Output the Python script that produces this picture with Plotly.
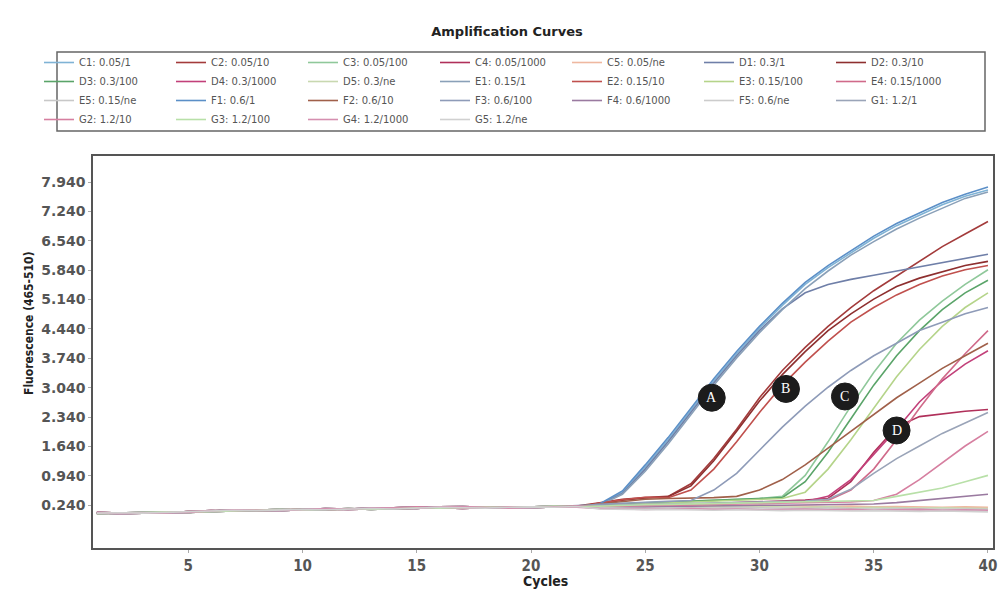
import plotly.graph_objects as go

cycles = list(range(1, 41))

base1 = [0.05, 0.06, 0.05, 0.07, 0.08, 0.10, 0.12, 0.11, 0.13, 0.14, 0.13, 0.15, 0.16, 0.15, 0.17, 0.19, 0.18, 0.17, 0.19, 0.20, 0.19, 0.21]
base2 = [0.07, 0.05, 0.06, 0.06, 0.09, 0.11, 0.10, 0.13, 0.12, 0.13, 0.15, 0.14, 0.15, 0.18, 0.20, 0.18, 0.16, 0.18, 0.20, 0.19, 0.21, 0.22]
base3 = [0.04, 0.05, 0.07, 0.08, 0.07, 0.09, 0.11, 0.12, 0.14, 0.12, 0.14, 0.16, 0.14, 0.16, 0.18, 0.17, 0.19, 0.20, 0.18, 0.20, 0.22, 0.20]
base4 = [0.06, 0.04, 0.05, 0.06, 0.07, 0.10, 0.13, 0.12, 0.11, 0.13, 0.16, 0.15, 0.17, 0.17, 0.16, 0.20, 0.21, 0.19, 0.17, 0.18, 0.20, 0.19]

# cycles 23-40 for every sample
C1_t = [0.26, 0.55, 1.15, 1.80, 2.50, 3.20, 3.85, 4.45, 5.00, 5.50, 5.90, 6.25, 6.60, 6.90, 7.15, 7.40, 7.60, 7.75]
C2_t = [0.30, 0.38, 0.42, 0.45, 0.75, 1.35, 2.05, 2.80, 3.45, 4.00, 4.50, 4.95, 5.35, 5.70, 6.05, 6.40, 6.70, 7.00]
C3_t = [0.25, 0.28, 0.30, 0.32, 0.34, 0.36, 0.38, 0.40, 0.45, 0.95, 1.75, 2.60, 3.40, 4.10, 4.65, 5.10, 5.50, 5.85]
C4_t = [0.20, 0.22, 0.24, 0.25, 0.27, 0.28, 0.30, 0.32, 0.34, 0.36, 0.40, 0.80, 1.50, 2.10, 2.35, 2.42, 2.48, 2.52]
C5_t = [0.22, 0.21, 0.23, 0.22, 0.24, 0.23, 0.22, 0.24, 0.23, 0.22, 0.21, 0.22, 0.20, 0.21, 0.20, 0.19, 0.20, 0.19]
D1_t = [0.25, 0.52, 1.10, 1.75, 2.45, 3.15, 3.80, 4.40, 4.92, 5.30, 5.50, 5.62, 5.72, 5.82, 5.92, 6.02, 6.12, 6.22]
D2_t = [0.28, 0.36, 0.41, 0.44, 0.70, 1.30, 2.00, 2.72, 3.35, 3.90, 4.40, 4.80, 5.15, 5.45, 5.65, 5.80, 5.95, 6.05]
D3_t = [0.24, 0.27, 0.29, 0.31, 0.33, 0.35, 0.37, 0.39, 0.42, 0.80, 1.50, 2.30, 3.10, 3.80, 4.40, 4.90, 5.30, 5.60]
D4_t = [0.19, 0.21, 0.22, 0.24, 0.25, 0.27, 0.28, 0.29, 0.31, 0.33, 0.45, 0.85, 1.45, 2.05, 2.70, 3.20, 3.60, 3.92]
D5_t = [0.20, 0.21, 0.20, 0.19, 0.21, 0.20, 0.22, 0.21, 0.20, 0.19, 0.20, 0.18, 0.19, 0.18, 0.17, 0.18, 0.17, 0.16]
E1_t = [0.24, 0.50, 1.05, 1.70, 2.40, 3.10, 3.75, 4.35, 4.90, 5.40, 5.82, 6.20, 6.52, 6.82, 7.08, 7.32, 7.55, 7.70]
E2_t = [0.29, 0.37, 0.43, 0.42, 0.60, 1.10, 1.75, 2.45, 3.10, 3.65, 4.15, 4.60, 4.95, 5.25, 5.50, 5.70, 5.85, 5.95]
E3_t = [0.23, 0.26, 0.28, 0.30, 0.32, 0.34, 0.36, 0.38, 0.40, 0.55, 1.10, 1.80, 2.55, 3.30, 3.95, 4.50, 4.95, 5.30]
E4_t = [0.20, 0.21, 0.23, 0.24, 0.26, 0.27, 0.29, 0.30, 0.31, 0.32, 0.35, 0.60, 1.10, 1.80, 2.55, 3.25, 3.85, 4.40]
E5_t = [0.19, 0.18, 0.20, 0.19, 0.18, 0.17, 0.19, 0.18, 0.17, 0.16, 0.17, 0.16, 0.15, 0.16, 0.15, 0.14, 0.15, 0.14]
F1_t = [0.27, 0.58, 1.20, 1.85, 2.55, 3.25, 3.90, 4.50, 5.05, 5.55, 5.95, 6.30, 6.65, 6.95, 7.20, 7.45, 7.65, 7.82]
F2_t = [0.27, 0.33, 0.38, 0.40, 0.41, 0.42, 0.45, 0.60, 0.85, 1.20, 1.60, 2.00, 2.40, 2.80, 3.15, 3.50, 3.80, 4.10]
F3_t = [0.26, 0.29, 0.31, 0.33, 0.35, 0.60, 1.00, 1.55, 2.10, 2.60, 3.05, 3.45, 3.80, 4.10, 4.40, 4.60, 4.80, 4.95]
F4_t = [0.18, 0.19, 0.20, 0.21, 0.22, 0.22, 0.23, 0.24, 0.24, 0.25, 0.25, 0.26, 0.27, 0.30, 0.35, 0.40, 0.45, 0.50]
F5_t = [0.18, 0.17, 0.16, 0.17, 0.16, 0.15, 0.16, 0.15, 0.14, 0.15, 0.14, 0.13, 0.14, 0.13, 0.12, 0.13, 0.12, 0.11]
G1_t = [0.22, 0.24, 0.26, 0.27, 0.28, 0.30, 0.31, 0.32, 0.33, 0.34, 0.38, 0.62, 1.00, 1.35, 1.65, 1.95, 2.20, 2.45]
G2_t = [0.21, 0.22, 0.23, 0.24, 0.25, 0.26, 0.27, 0.28, 0.29, 0.30, 0.31, 0.32, 0.35, 0.50, 0.85, 1.25, 1.65, 2.00]
G3_t = [0.22, 0.23, 0.25, 0.26, 0.27, 0.28, 0.29, 0.30, 0.30, 0.31, 0.32, 0.33, 0.35, 0.45, 0.55, 0.65, 0.80, 0.95]
G4_t = [0.16, 0.15, 0.14, 0.15, 0.16, 0.14, 0.15, 0.13, 0.14, 0.15, 0.13, 0.14, 0.12, 0.13, 0.14, 0.12, 0.13, 0.12]
G5_t = [0.15, 0.14, 0.13, 0.14, 0.13, 0.12, 0.13, 0.12, 0.11, 0.12, 0.11, 0.10, 0.11, 0.10, 0.09, 0.10, 0.09, 0.08]

samples = [
    ("C1: 0.05/1", base1, C1_t, "#7fb3d5"),
    ("C2: 0.05/10", base2, C2_t, "#a33b3b"),
    ("C3: 0.05/100", base3, C3_t, "#8fc89a"),
    ("C4: 0.05/1000", base4, C4_t, "#b0305a"),
    ("C5: 0.05/ne", base1, C5_t, "#efb8a0"),
    ("D1: 0.3/1", base2, D1_t, "#6f7fa8"),
    ("D2: 0.3/10", base3, D2_t, "#8e2f2f"),
    ("D3: 0.3/100", base4, D3_t, "#5aa469"),
    ("D4: 0.3/1000", base1, D4_t, "#c2407a"),
    ("D5: 0.3/ne", base2, D5_t, "#c8d8b0"),
    ("E1: 0.15/1", base3, E1_t, "#8aa0b8"),
    ("E2: 0.15/10", base4, E2_t, "#c0504d"),
    ("E3: 0.15/100", base1, E3_t, "#b5d48a"),
    ("E4: 0.15/1000", base2, E4_t, "#d06a8a"),
    ("E5: 0.15/ne", base3, E5_t, "#c8c8c8"),
    ("F1: 0.6/1", base4, F1_t, "#5b8fc7"),
    ("F2: 0.6/10", base1, F2_t, "#a0604a"),
    ("F3: 0.6/100", base2, F3_t, "#8e9bb8"),
    ("F4: 0.6/1000", base3, F4_t, "#9a7aa0"),
    ("F5: 0.6/ne", base4, F5_t, "#cccccc"),
    ("G1: 1.2/1", base1, G1_t, "#9aa4b8"),
    ("G2: 1.2/10", base2, G2_t, "#d67fa0"),
    ("G3: 1.2/100", base3, G3_t, "#b8e0a8"),
    ("G4: 1.2/1000", base4, G4_t, "#d58fb0"),
    ("G5: 1.2/ne", base1, G5_t, "#d0d0d0"),
]

ytick_vals = [0.24, 0.94, 1.64, 2.34, 3.04, 3.74, 4.44, 5.14, 5.84, 6.54, 7.24, 7.94]
ytick_text = ["0.240", "0.940", "1.640", "2.340", "3.040", "3.740", "4.440", "5.140", "5.840", "6.540", "7.240", "7.940"]
xtick_vals = [5, 10, 15, 20, 25, 30, 35, 40]

labels = ["A", "B", "C", "D"]
label_x = [27.91, 31.16, 33.74, 36.0]
label_y = [2.80, 3.01, 2.83, 2.02]

fig = go.Figure()
for name, head, tail, color in samples:
    fig.add_trace(go.Scatter(x=cycles, y=head + tail, mode="lines", name=name,
                             line=dict(color=color, width=1.6)))

narrow = "DejaVu Sans Condensed, Liberation Sans Narrow, Liberation Sans, sans-serif"

# plot area in pixels: left 93, right 993, top 156, bottom 548
L, R, T, B = 93, 993, 156, 548
W, H = R - L, B - T


def px_x(p):
    return (p - L) / W


def px_y(p):
    return (B - p) / H


shapes = [dict(type="rect", xref="paper", yref="paper",
               x0=px_x(57), x1=px_x(985), y0=px_y(131), y1=px_y(52),
               line=dict(color="#666666", width=1.5), fillcolor="rgba(0,0,0,0)")]
annotations = []
for lab, lx, ly in zip(labels, label_x, label_y):
    shapes.append(dict(type="circle", xref="x", yref="y", xsizemode="pixel", ysizemode="pixel",
                       xanchor=lx, yanchor=ly, x0=-13.5, x1=13.5, y0=-13.5, y1=13.5,
                       fillcolor="#1c1c1c", line=dict(color="#1c1c1c", width=1), layer="above"))
    annotations.append(dict(x=lx, y=ly, xref="x", yref="y", text=lab, showarrow=False,
                            font=dict(family="Liberation Serif, DejaVu Serif, serif", size=14, color="white")))

annotations.append(dict(x=px_x(29), y=px_y(323), xref="paper", yref="paper", text="Fluorescence (465-510)",
                        showarrow=False, textangle=-90, xanchor="center", yanchor="middle",
                        font=dict(family=narrow, size=12, color="#222222", weight="bold")))
annotations.append(dict(x=px_x(545), y=px_y(581), xref="paper", yref="paper", text="Cycles",
                        showarrow=False, xanchor="center", yanchor="middle",
                        font=dict(family=narrow, size=14, color="#222222", weight="bold")))

fig.update_layout(
    width=1004, height=592,
    margin=dict(l=L, r=1004 - R, t=T, b=592 - B, autoexpand=False),
    paper_bgcolor="white", plot_bgcolor="white",
    title=dict(text="Amplification Curves", x=0.505, xref="container", y=1 - 31 / 592, yref="container",
               xanchor="center", yanchor="middle",
               font=dict(family="DejaVu Sans, sans-serif", size=13, color="#222222", weight="bold")),
    showlegend=True,
    legend=dict(orientation="h", x=px_x(39), xanchor="left", y=px_y(48), yanchor="top",
                entrywidth=87, entrywidthmode="pixels", bgcolor="rgba(0,0,0,0)", borderwidth=0,
                font=dict(family="DejaVu Sans, sans-serif", size=10, color="#555555"),
                tracegroupgap=0),
    shapes=shapes,
    annotations=annotations,
)
fig.update_xaxes(range=[0.83, 40.22], tickvals=xtick_vals, showgrid=False, zeroline=False,
                 showline=True, mirror=True, linecolor="#555555", linewidth=1.5,
                 ticks="outside", ticklen=3, tickcolor="#aaaaaa", automargin=False,
                 tickfont=dict(family=narrow, size=15, color="#555555", weight="bold"))
fig.update_yaxes(range=[-0.78, 8.56], tickvals=ytick_vals, ticktext=ytick_text, showgrid=False, zeroline=False,
                 showline=True, mirror=True, linecolor="#555555", linewidth=1.5,
                 ticks="outside", ticklen=3, tickcolor="#aaaaaa", automargin=False,
                 tickfont=dict(family="DejaVu Sans, sans-serif", size=14, color="#555555", weight="bold"))

fig.write_html("out.html")
